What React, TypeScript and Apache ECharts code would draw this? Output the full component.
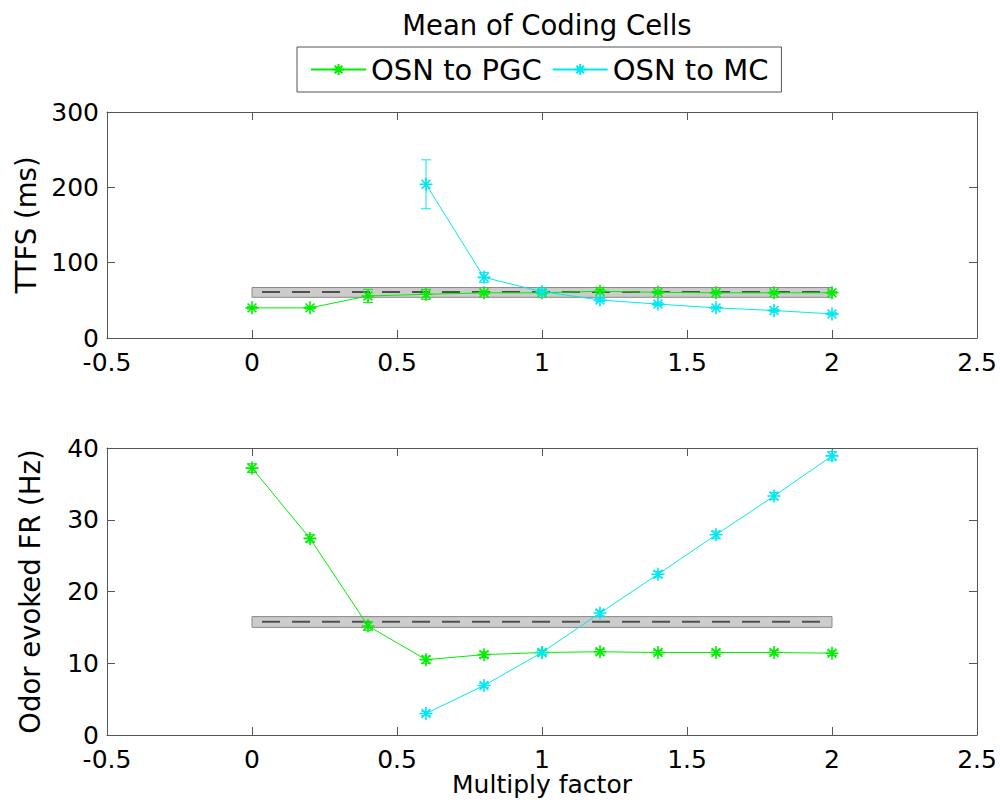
import React, { useEffect, useRef } from "react";
import * as echarts from "echarts";

// ---- data ----
const xFactors = [0, 0.2, 0.4, 0.6, 0.8, 1, 1.2, 1.4, 1.6, 1.8, 2];
const xFactorsMC = [0.6, 0.8, 1, 1.2, 1.4, 1.6, 1.8, 2];

const ttfsPGC = [40, 40, 55.8, 58, 60, 60, 62, 60.6, 60, 60, 60];
const ttfsPGCErr = [1.5, 1.5, 8.8, 6.6, 2, 2, 2, 1.5, 1.5, 1.5, 1.5];
const ttfsMC = [204, 80.5, 61.5, 50.5, 45, 40, 36.5, 32];
const ttfsMCErr = [32.5, 6.6, 2.5, 2, 2, 1.5, 1.5, 1.5];

const frPGC = [37.2, 27.4, 15.2, 10.5, 11.2, 11.5, 11.6, 11.5, 11.5, 11.5, 11.4];
const frPGCErr = [0.6, 0.5, 0.6, 0.5, 0.4, 0.3, 0.3, 0.3, 0.3, 0.3, 0.3];
const frMC = [3.0, 6.9, 11.5, 17.0, 22.4, 27.9, 33.3, 38.9];
const frMCErr = [0.3, 0.3, 0.3, 0.4, 0.4, 0.5, 0.5, 0.6];

// baseline (mean ± band) spanning x = 0..2
const baselineX = [0, 2];
const ttfsBaseline = 61;
const ttfsBand = [54, 67];
const frBaseline = 15.8;
const frBand = [15.0, 16.5];

const xTicks = { min: -0.5, max: 2.5, interval: 0.5 };
const ttfsTicks = { min: 0, max: 300, interval: 100 };
const frTicks = { min: 0, max: 40, interval: 10 };

const seriesNames = ["OSN to PGC", "OSN to MC"];
const titleText = "Mean of Coding Cells";
const yNames = ["TTFS (ms)", "Odor evoked FR (Hz)"];
const xName = "Multiply factor";

// ---- styles ----
const GREEN = "#00ee00";
const CYAN = "#00e8f0";
const AXIS = "#555555";
const FONT = "DejaVu Sans";
const ASTERISK = "path://M5,0L5,10M0,5L10,5M1.6,1.6L8.4,8.4M1.6,8.4L8.4,1.6";

function errData(xs: number[], v: number[], e: number[]) {
  return xs.map((x, i) => [x, v[i] - e[i], v[i] + e[i]]);
}

function errorSeries(data: number[][], color: string, axis: number) {
  return {
    type: "custom",
    xAxisIndex: axis * 2,
    yAxisIndex: axis * 2,
    z: 4,
    silent: true,
    encode: { x: 0, y: [1, 2] },
    data,
    renderItem: (params: any, api: any) => {
      const x = api.value(0);
      const lo = api.coord([x, api.value(1)]);
      const hi = api.coord([x, api.value(2)]);
      const w = 5;
      const st = { stroke: color, lineWidth: 1 };
      return {
        type: "group",
        children: [
          { type: "line", shape: { x1: lo[0], y1: lo[1], x2: hi[0], y2: hi[1] }, style: st },
          { type: "line", shape: { x1: lo[0] - w, y1: lo[1], x2: lo[0] + w, y2: lo[1] }, style: st },
          { type: "line", shape: { x1: hi[0] - w, y1: hi[1], x2: hi[0] + w, y2: hi[1] }, style: st },
        ],
      };
    },
  };
}

function bandSeries(band: number[], axis: number) {
  return {
    type: "custom",
    xAxisIndex: axis * 2,
    yAxisIndex: axis * 2,
    z: 1,
    silent: true,
    encode: { x: [0, 1], y: [2, 3] },
    data: [[baselineX[0], baselineX[1], band[0], band[1]]],
    renderItem: (params: any, api: any) => {
      const p1 = api.coord([api.value(0), api.value(3)]);
      const p2 = api.coord([api.value(1), api.value(2)]);
      return {
        type: "rect",
        shape: { x: p1[0], y: p1[1], width: p2[0] - p1[0], height: p2[1] - p1[1] },
        style: { fill: "#cccccc", stroke: "#8a8a8a", lineWidth: 1 },
      };
    },
  };
}

function baselineSeries(v: number, axis: number) {
  return {
    type: "line",
    xAxisIndex: axis * 2,
    yAxisIndex: axis * 2,
    z: 2,
    silent: true,
    symbol: "none",
    data: baselineX.map((x) => [x, v]),
    lineStyle: { color: "#505050", width: 2, type: [18, 12], dashOffset: 20 },
  };
}

function lineSeries(name: string, xs: number[], v: number[], color: string, axis: number) {
  return {
    type: "line",
    name,
    xAxisIndex: axis * 2,
    yAxisIndex: axis * 2,
    z: 5,
    data: xs.map((x, i) => [x, v[i]]),
    symbol: ASTERISK,
    symbolSize: 13,
    lineStyle: { color, width: 1 },
    itemStyle: { color, borderColor: color, borderWidth: 1.6 },
  };
}

const tickStyle = { inside: true, length: 8, lineStyle: { color: AXIS } };
const lineStyle = { show: true, onZero: false, lineStyle: { color: AXIS, width: 1 } };
const labelStyle = { color: "#000", fontFamily: FONT, fontSize: 25 };

function xAxes(grid: number, withName: boolean) {
  return [
    {
      type: "value",
      gridIndex: grid,
      position: "bottom",
      ...xTicks,
      axisLine: lineStyle,
      axisTick: tickStyle,
      splitLine: { show: false },
      axisLabel: { ...labelStyle, margin: 13, lineHeight: 22 },
      name: withName ? xName : "",
      nameLocation: "middle",
      nameGap: 35,
      nameTextStyle: { color: "#000", fontFamily: FONT, fontSize: 25 },
    },
    {
      type: "value",
      gridIndex: grid,
      position: "top",
      ...xTicks,
      axisLine: lineStyle,
      axisTick: tickStyle,
      splitLine: { show: false },
      axisLabel: { show: false },
    },
  ];
}

function yAxes(grid: number, ticks: any, name: string) {
  return [
    {
      type: "value",
      gridIndex: grid,
      position: "left",
      ...ticks,
      axisLine: lineStyle,
      axisTick: tickStyle,
      splitLine: { show: false },
      axisLabel: { ...labelStyle, margin: 8, lineHeight: 20 },
      name,
      nameLocation: "middle",
      nameGap: 63,
      nameTextStyle: { color: "#000", fontFamily: FONT, fontSize: 27.5 },
    },
    {
      type: "value",
      gridIndex: grid,
      position: "right",
      ...ticks,
      axisLine: lineStyle,
      axisTick: tickStyle,
      splitLine: { show: false },
      axisLabel: { show: false },
    },
  ];
}

export default function App() {
  const ref = useRef<HTMLDivElement>(null);
  useEffect(() => {
    if (!ref.current) return;
    const chart = echarts.init(ref.current, undefined, { renderer: "svg" });
    chart.setOption({
      animation: false,
      backgroundColor: "#ffffff",
      title: {
        text: titleText,
        left: 542,
        textAlign: "center",
        top: 6,
        textStyle: { color: "#000", fontFamily: FONT, fontSize: 27.5, fontWeight: "normal" },
      },
      legend: {
        data: seriesNames,
        left: 297,
        top: 47,
        padding: [8, 13],
        itemGap: 10,
        itemWidth: 55,
        itemHeight: 14,
        borderColor: "#555",
        borderWidth: 1,
        backgroundColor: "#fff",
        textStyle: { color: "#000", fontFamily: FONT, fontSize: 29, lineHeight: 29 },
        selectedMode: false,
      },
      grid: [
        { left: 107, right: 23, top: 112, height: 226 },
        { left: 107, right: 23, top: 448, height: 287 },
      ],
      xAxis: [...xAxes(0, false), ...xAxes(1, true)],
      yAxis: [...yAxes(0, ttfsTicks, yNames[0]), ...yAxes(1, frTicks, yNames[1])],
      series: [
        bandSeries(ttfsBand, 0),
        baselineSeries(ttfsBaseline, 0),
        bandSeries(frBand, 1),
        baselineSeries(frBaseline, 1),
        errorSeries(errData(xFactors, ttfsPGC, ttfsPGCErr), GREEN, 0),
        errorSeries(errData(xFactorsMC, ttfsMC, ttfsMCErr), CYAN, 0),
        errorSeries(errData(xFactors, frPGC, frPGCErr), GREEN, 1),
        errorSeries(errData(xFactorsMC, frMC, frMCErr), CYAN, 1),
        lineSeries(seriesNames[0], xFactors, ttfsPGC, GREEN, 0),
        lineSeries(seriesNames[1], xFactorsMC, ttfsMC, CYAN, 0),
        lineSeries(seriesNames[0], xFactors, frPGC, GREEN, 1),
        lineSeries(seriesNames[1], xFactorsMC, frMC, CYAN, 1),
      ],
    });
    return () => chart.dispose();
  }, []);
  return (
    <div
      ref={ref}
      style={{ position: "fixed", left: 0, top: 0, width: 1000, height: 812, background: "#fff" }}
    />
  );
}
